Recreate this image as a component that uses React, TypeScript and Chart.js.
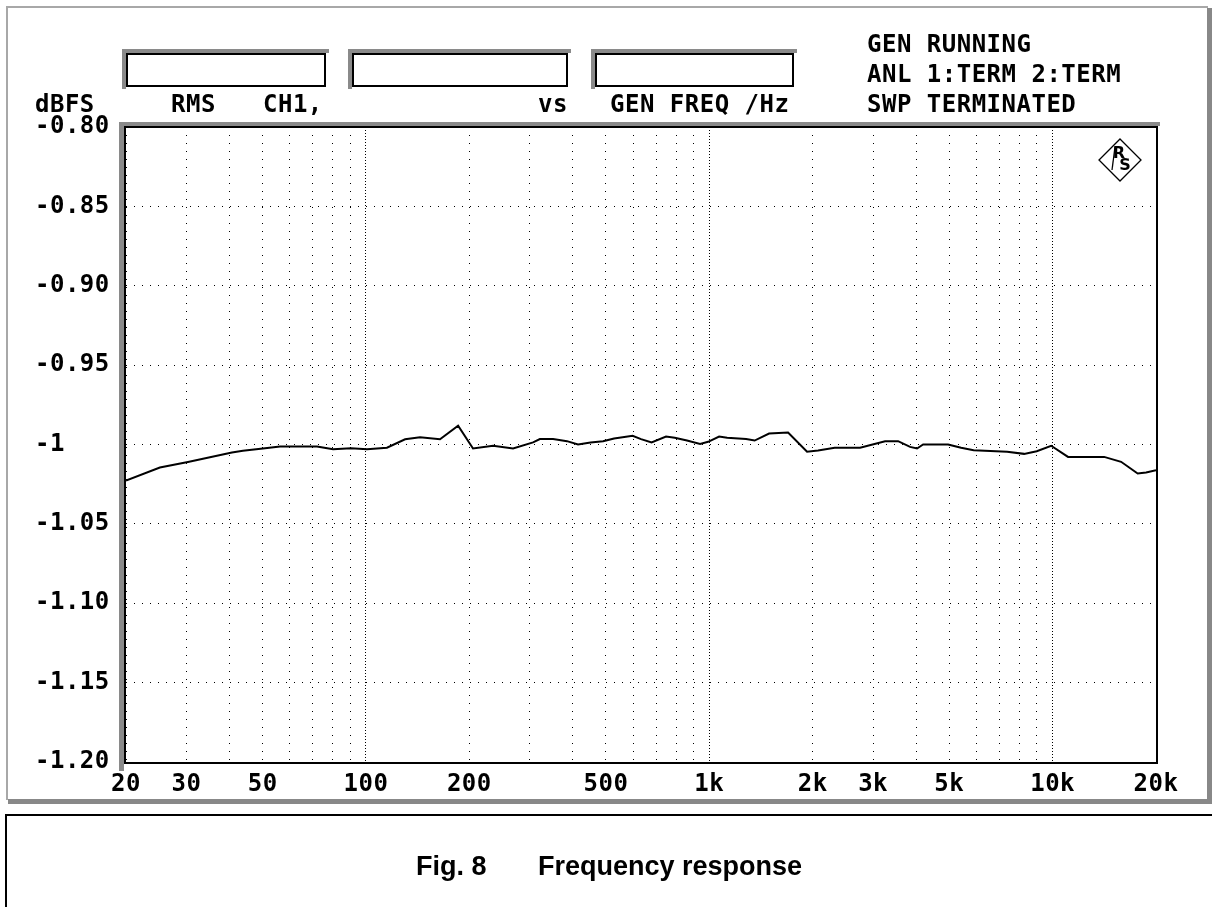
import React, { useEffect, useRef } from 'react';
import { Chart, registerables } from 'chart.js';

Chart.register(...registerables);

// ---- data ----
const FREQS = [
  20, 25.1, 30.3, 40.7, 43.8, 50.1, 56.2, 72, 80.2, 90.5, 100.7, 115.1, 130, 143.7, 164.3, 185.5,
  205, 234.5, 268.2, 306.7, 321, 350.7, 385, 414.6, 451, 490.4, 528, 598, 632.6, 679, 748, 793,
  861, 940, 992, 1068, 1127, 1280, 1355, 1493, 1696, 1926, 2074, 2318, 2749, 2989, 3251, 3547,
  3844, 4028, 4195, 4961, 5413, 5887, 7369, 8258, 8988, 9901, 11088, 14125, 15828, 17688, 18715, 20000,
];
const LEVELS = [
  -1.0227, -1.0145, -1.011, -1.005, -1.004, -1.0025, -1.0013, -1.0013, -1.003, -1.0023, -1.003, -1.002,
  -0.9967, -0.9954, -0.9967, -0.9882, -1.0025, -1.0008, -1.0025, -0.9987, -0.9966, -0.9966, -0.9979,
  -1.0, -0.9987, -0.9979, -0.9962, -0.9945, -0.9966, -0.9987, -0.995, -0.9958, -0.9975, -0.9996,
  -0.9983, -0.995, -0.9958, -0.9966, -0.9975, -0.9931, -0.9924, -1.0046, -1.0038, -1.0021, -1.0021,
  -1.0, -0.9979, -0.9979, -1.0015, -1.0025, -1.0, -1.0, -1.0021, -1.0036, -1.0046, -1.0059, -1.0042,
  -1.0008, -1.0078, -1.0078, -1.0109, -1.0183, -1.0176, -1.0162,
];
const X_GRID = [
  20, 30, 40, 50, 60, 70, 80, 90, 100, 200, 300, 400, 500, 600, 700, 800, 900, 1000,
  2000, 3000, 4000, 5000, 6000, 7000, 8000, 9000, 10000, 20000,
];
const X_DECADES = [100, 1000, 10000];
const X_LABEL_VALUES = [20, 30, 50, 100, 200, 500, 1000, 2000, 3000, 5000, 10000, 20000];
const X_LABELS = ['20', '30', '50', '100', '200', '500', '1k', '2k', '3k', '5k', '10k', '20k'];
const Y_TICKS = [-1.2, -1.15, -1.1, -1.05, -1.0, -0.95, -0.9, -0.85, -0.8];
const Y_LABELS = ['-1.20', '-1.15', '-1.10', '-1.05', '-1', '-0.95', '-0.90', '-0.85', '-0.80'];
const Y_UNIT = 'dBFS';
const HEADER_ROW = ['RMS', 'CH1,', 'vs', 'GEN FREQ /Hz'];
const STATUS_LINES = ['GEN RUNNING', 'ANL 1:TERM 2:TERM', 'SWP TERMINATED'];
const CAPTION_FIG = 'Fig. 8';
const CAPTION_TEXT = 'Frequency response';

const MONO = '"DejaVu Sans Mono", monospace';
const MONO_FONT = { family: MONO, size: 24, weight: 'bold' as const };
const SPACING = '0.5px';

function sunkenBox(ctx: CanvasRenderingContext2D, x1: number, y1: number, x2: number, y2: number) {
  ctx.fillStyle = '#8a8a8a';
  ctx.fillRect(x1 - 4, y1 - 4, 4, y2 - y1 + 6);
  ctx.fillRect(x1 - 4, y1 - 4, x2 - x1 + 7, 4);
  ctx.strokeStyle = '#000';
  ctx.lineWidth = 2;
  ctx.strokeRect(x1 + 1, y1 + 1, x2 - x1 - 2, y2 - y1 - 2);
}

const decor = {
  id: 'decor',
  beforeDraw(chart: any) {
    const ctx: CanvasRenderingContext2D = chart.ctx;
    const { left, top, right, bottom } = chart.chartArea;
    ctx.save();
    ctx.fillStyle = '#fff';
    ctx.fillRect(0, 0, chart.width, chart.height);
    // outer panel
    ctx.fillStyle = '#888';
    ctx.fillRect(1207, 8, 5, 796);
    ctx.fillRect(8, 799, 1204, 5);
    ctx.strokeStyle = '#a8a8a8';
    ctx.lineWidth = 2;
    ctx.beginPath();
    ctx.moveTo(7, 800);
    ctx.lineTo(7, 7);
    ctx.lineTo(1208, 7);
    ctx.stroke();
    // caption box
    ctx.strokeStyle = '#000';
    ctx.lineWidth = 2;
    ctx.strokeRect(6, 815, 1300, 200);
    // header boxes
    sunkenBox(ctx, 126, 53, 326, 87);
    sunkenBox(ctx, 352, 53, 568, 87);
    sunkenBox(ctx, 595, 53, 794, 87);
    // plot frame shadow
    ctx.fillStyle = '#8a8a8a';
    ctx.fillRect(left - 7, top - 5, 5, bottom - top + 14);
    ctx.fillRect(left - 7, top - 5, right - left + 11, 4);
    // texts
    (ctx as any).letterSpacing = SPACING;
    ctx.fillStyle = '#000';
    ctx.font = `bold 24px ${MONO}`;
    ctx.textAlign = 'left';
    ctx.textBaseline = 'alphabetic';
    ctx.fillText(Y_UNIT, 35, 112);
    const hx = [171, 263, 538, 610];
    HEADER_ROW.forEach((t, i) => ctx.fillText(t, hx[i], 112));
    STATUS_LINES.forEach((t, i) => ctx.fillText(t, 867, 52 + i * 30));
    // caption
    (ctx as any).letterSpacing = '0px';
    ctx.font = 'bold 27px "Liberation Sans", Arial, sans-serif';
    ctx.fillText(CAPTION_FIG, 416, 875);
    ctx.textAlign = 'right';
    ctx.fillText(CAPTION_TEXT, 802, 875);
    ctx.restore();
    (ctx as any).letterSpacing = SPACING;
  },
  afterDraw(chart: any) {
    const ctx: CanvasRenderingContext2D = chart.ctx;
    const { left, top, right, bottom } = chart.chartArea;
    ctx.save();
    ctx.strokeStyle = '#000';
    ctx.lineWidth = 2;
    ctx.strokeRect(left - 1, top, right - left + 2, bottom - top + 1);
    // R&S logo
    const cx = 1120, cy = 160, h = 21;
    ctx.lineWidth = 1.3;
    ctx.beginPath();
    ctx.moveTo(cx, cy - h);
    ctx.lineTo(cx + h, cy);
    ctx.lineTo(cx, cy + h);
    ctx.lineTo(cx - h, cy);
    ctx.closePath();
    ctx.stroke();
    (ctx as any).letterSpacing = '0px';
    ctx.fillStyle = '#000';
    ctx.font = 'bold 16px "DejaVu Sans", sans-serif';
    ctx.textAlign = 'center';
    ctx.textBaseline = 'middle';
    ctx.fillText('R', cx - 1, cy - 6);
    ctx.fillText('S', cx + 5, cy + 6);
    ctx.beginPath();
    ctx.moveTo(cx - 8, cy + 10);
    ctx.lineTo(cx - 5, cy - 13);
    ctx.stroke();
    ctx.restore();
  },
};

export default function App() {
  const ref = useRef<HTMLCanvasElement>(null);
  useEffect(() => {
    if (!ref.current) return;
    const chart = new Chart(ref.current, {
      type: 'line',
      data: {
        datasets: [
          {
            data: FREQS.map((f, i) => ({ x: f, y: LEVELS[i] })),
            borderColor: '#000',
            borderWidth: 2,
            pointRadius: 0,
            tension: 0,
            fill: false,
          },
        ],
      },
      options: {
        animation: false,
        responsive: false,
        devicePixelRatio: 1,
        layout: { padding: { left: 35, top: 127, right: 56, bottom: 0 } },
        plugins: { legend: { display: false }, tooltip: { enabled: false }, title: { display: false } },
        scales: {
          x: {
            type: 'logarithmic',
            min: 20,
            max: 20000,
            afterBuildTicks: (s: any) => {
              s.ticks = X_GRID.map((v) => ({ value: v }));
            },
            afterFit: (s: any) => {
              s.height = 145;
            },
            grid: { color: '#000', lineWidth: 1, drawTicks: false },
            border: {
              display: false,
              dash: (c: any) => (c.tick && X_DECADES.includes(c.tick.value) ? [1, 2] : [1, 7]),
            },
            ticks: {
              autoSkip: false,
              maxRotation: 0,
              minRotation: 0,
              padding: 8,
              color: '#000',
              font: MONO_FONT,
              callback: (v: any) => {
                const i = X_LABEL_VALUES.indexOf(Number(v));
                return i >= 0 ? X_LABELS[i] : '';
              },
            },
          },
          y: {
            type: 'linear',
            min: -1.2,
            max: -0.8,
            afterBuildTicks: (s: any) => {
              s.ticks = Y_TICKS.map((v) => ({ value: v }));
            },
            afterFit: (s: any) => {
              s.width = 91;
            },
            grid: { color: '#000', lineWidth: 1, drawTicks: false },
            border: { display: false, dash: [1, 7] },
            ticks: {
              crossAlign: 'far',
              padding: 0,
              color: '#000',
              font: MONO_FONT,
              callback: (_v: any, i: number) => Y_LABELS[i],
            },
          },
        },
      } as any,
      plugins: [decor],
    });
    return () => chart.destroy();
  }, []);
  return (
    <div style={{ position: 'absolute', left: 0, top: 0, width: 1212, height: 907, background: '#fff' }}>
      <canvas ref={ref} width={1212} height={907} style={{ display: 'block' }} />
    </div>
  );
}
